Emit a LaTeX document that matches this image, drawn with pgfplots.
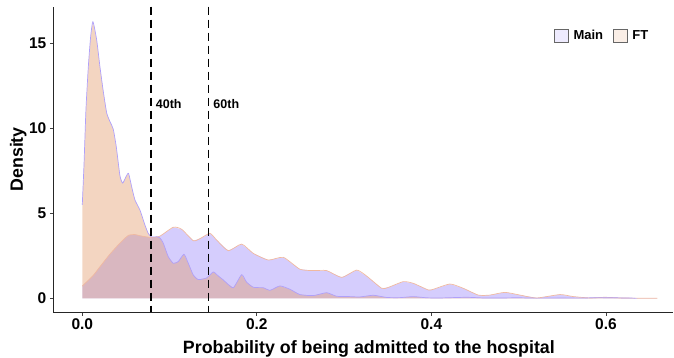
\documentclass[border=0pt]{standalone}
\usepackage{fontspec}
\setmainfont{Liberation Sans}
\usepackage{pgfplots}
\pgfplotsset{compat=1.18}

\definecolor{mainfill}{RGB}{150,130,250}
\definecolor{ftfill}{RGB}{225,150,100}
\definecolor{mainline}{RGB}{240,185,160}
\definecolor{ftline}{RGB}{175,160,250}

% density estimates of the predicted admission probability
\pgfplotstableread{
x       d
0.0000  0
0.0000  0.72
0.0126  1.35
0.0203  1.86
0.0317  2.60
0.0432  3.25
0.0527  3.70
0.0604  3.75
0.0661  3.68
0.0795  3.57
0.0890  3.66
0.1043  4.18
0.1139  4.06
0.1272  3.39
0.1349  3.51
0.1463  3.82
0.1539  3.43
0.1673  2.80
0.1826  3.19
0.1960  2.64
0.2132  2.25
0.2304  2.41
0.2494  1.71
0.2648  1.63
0.2800  1.63
0.2972  1.23
0.3144  1.66
0.3258  1.31
0.3430  0.59
0.3506  0.64
0.3678  0.98
0.3793  0.88
0.3965  0.49
0.4022  0.53
0.4213  0.84
0.4365  0.59
0.4537  0.19
0.4671  0.19
0.4843  0.35
0.5015  0.19
0.5206  0.02
0.5474  0.22
0.5626  0.10
0.5817  0.02
0.5989  0.06
0.6161  0.02
0.6314  0.01
0.6580  0.005
0.6580  0
}\maindens

\pgfplotstableread{
x       d
0.0000  0
0.0000  5.50
0.0020  7.90
0.0042  11.10
0.0069  13.60
0.0096  15.40
0.0122  16.27
0.0165  15.20
0.0203  13.60
0.0240  12.20
0.0280  10.90
0.0317  10.40
0.0355  9.95
0.0390  8.90
0.0432  7.20
0.0463  6.78
0.0501  7.15
0.0530  7.35
0.0566  6.56
0.0604  5.78
0.0661  5.19
0.0718  4.31
0.0756  3.82
0.0795  3.60
0.0852  3.62
0.0890  3.55
0.0928  3.25
0.0985  2.45
0.1043  2.06
0.1100  2.16
0.1165  2.59
0.1215  2.06
0.1272  1.37
0.1329  1.10
0.1425  1.20
0.1501  1.55
0.1559  1.31
0.1616  1.08
0.1654  0.90
0.1731  0.62
0.1826  1.39
0.1883  0.95
0.1960  0.65
0.2074  0.62
0.2151  0.47
0.2265  0.73
0.2380  0.53
0.2494  0.22
0.2648  0.16
0.2800  0.33
0.2915  0.12
0.3068  0.10
0.3182  0.08
0.3335  0.18
0.3488  0.05
0.3640  0.04
0.3793  0.10
0.3946  0.03
0.4100  0.02
0.4404  0.06
0.4595  0.02
0.4800  0.02
0.5000  0.03
0.5200  0.01
0.5500  0.02
0.5700  0.01
0.5900  0.04
0.6100  0.03
0.6320  0.01
0.6320  0
}\ftdens

\begin{document}
\begin{tikzpicture}[x=1pt,y=1pt]
\useasboundingbox (0,0) rectangle (674,357);
\begin{axis}[
  at={(53.3pt,45pt)}, anchor=south west,
  scale only axis, width=620pt, height=305.3pt,
  xmin=-0.0332, xmax=0.6772, ymin=-0.806, ymax=17.153,
  axis lines=left,
  axis line style={-, line width=0.8pt, black!85},
  tick align=outside, major tick length=3.5pt,
  tick style={line width=0.8pt, black!75},
  xtick={0,0.2,0.4,0.6}, xticklabels={0.0,0.2,0.4,0.6},
  ytick={0,5,10,15}, yticklabels={0,5,10,15},
  ticklabel style={font=\bfseries\fontsize{15.5}{15.5}\selectfont},
  xlabel={Probability of being admitted to the hospital},
  ylabel={Density},
  label style={font=\bfseries\fontsize{17.8}{17.8}\selectfont},
  xlabel style={at={(axis description cs:0.509,-0.1353)}, anchor=base},
  ylabel style={at={(axis description cs:-0.0565,0.5)}, anchor=center},
  legend columns=2,
  legend style={at={(axis description cs:0.803,0.936)}, anchor=north west,
    draw=none, fill=none, font=\bfseries\fontsize{13}{13}\selectfont,
    /tikz/every odd column/.append style={column sep=3pt},
    /tikz/every even column/.append style={column sep=8pt}},
  clip=false,
]
\addplot[draw=none, fill=mainfill, fill opacity=0.4,
  legend image code/.code={\draw[fill=mainfill!40, draw=black!60, line width=0.6pt] (0pt,-6.8pt) rectangle (13.6pt,6.8pt);}]
  table[x=x,y=d] {\maindens};
\addlegendentry{Main}
\addplot[draw=none, fill=ftfill, fill opacity=0.4,
  legend image code/.code={\draw[fill=ftfill!40, draw=black!60, line width=0.6pt] (0pt,-6.8pt) rectangle (13.6pt,6.8pt);}]
  table[x=x,y=d] {\ftdens};
\addlegendentry{FT}
\addplot[forget plot, smooth, tension=0.35, mainline, line width=0.7pt]
  table[x=x,y=d, skip coords between index={0}{1}] {\maindens};
\addplot[forget plot, smooth, tension=0.35, ftline, line width=0.7pt]
  table[x=x,y=d, skip coords between index={0}{1}] {\ftdens};
% percentile cut-offs
\addplot[forget plot, black, line width=1.3pt, dash pattern=on 8.5pt off 4.5pt]
  coordinates {(0.0786,17.153) (0.0786,-0.806)};
\addplot[forget plot, black, line width=1.3pt, dash pattern=on 8.5pt off 4.5pt]
  coordinates {(0.1443,17.153) (0.1443,-0.806)};
\node[anchor=west, inner sep=0pt, font=\bfseries\fontsize{12.5}{12.5}\selectfont] at (axis cs:0.0841,11.44) {40th};
\node[anchor=west, inner sep=0pt, font=\bfseries\fontsize{12.5}{12.5}\selectfont] at (axis cs:0.1501,11.44) {60th};
\end{axis}
\end{tikzpicture}
\end{document}
